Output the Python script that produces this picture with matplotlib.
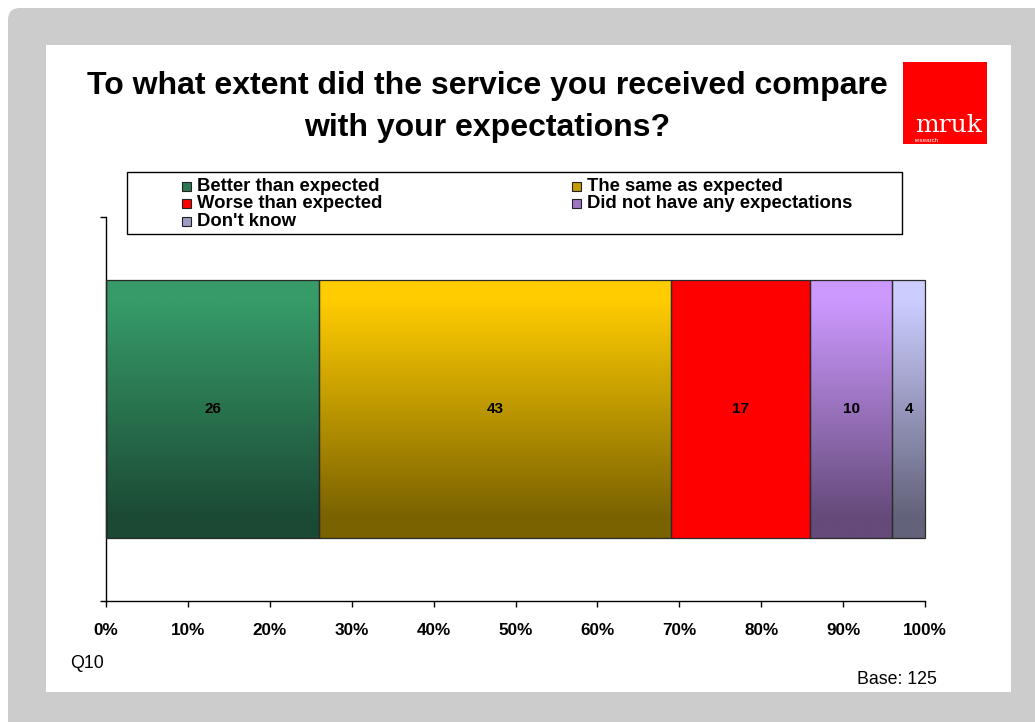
import numpy as np
import matplotlib
matplotlib.use('Agg')
import matplotlib.pyplot as plt
from matplotlib.patches import Rectangle, FancyBboxPatch
from matplotlib.colors import to_rgb

plt.rcParams['font.family'] = ['Liberation Sans', 'DejaVu Sans']

# survey answers, % of respondents
categories = ['Better than expected', 'The same as expected', 'Worse than expected',
              'Did not have any expectations', "Don't know"]
values = [26, 43, 17, 10, 4]
top_colors = ['#369b69', '#ffcc00', '#ff0000', '#cc99ff', '#ccccff']
bottom_colors = ['#1b4a34', '#7a6200', '#ff0000', '#654a7a', '#62627a']
tick_vals = list(range(0, 101, 10))
tick_labels = ['%d%%' % t for t in tick_vals]
title = 'To what extent did the service you received compare\nwith your expectations?'
question = 'Q10'
base_n = 125

W, H = 1035, 722
fig = plt.figure(figsize=(W / 100, H / 100), dpi=100)
fig.patch.set_facecolor('white')

# background layer in pixel units (y pointing down)
bg = fig.add_axes([0, 0, 1, 1])
bg.set_xlim(0, W)
bg.set_ylim(H, 0)
bg.axis('off')
bg.add_patch(FancyBboxPatch((8, 8), W + 40, H + 40,
                            boxstyle='round,pad=0,rounding_size=12',
                            fc='#cccccc', ec='none'))
bg.add_patch(Rectangle((46, 45), 965, 647, fc='white', ec='none'))

bg.text(487, 107, title, ha='center', va='center', fontsize=23,
        fontweight='bold', linespacing=1.5, multialignment='center')

# logo
bg.add_patch(Rectangle((903, 62), 84, 82, fc='#ff0000', ec='none'))
bg.text(948.5, 132, 'mruk', ha='center', va='baseline', color='white',
        fontsize=18, family='DejaVu Serif')
bg.text(915, 142, 'research', ha='left', va='baseline', color='white', fontsize=4.5)

# legend box, laid out row by row
bg.add_patch(Rectangle((127, 172), 775, 62, fc='white', ec='black', lw=1))
col_x = [182, 572]
row_y = [191, 208.5, 226]
for i, (lab, ct, cb) in enumerate(zip(categories, top_colors, bottom_colors)):
    cx = col_x[i % 2]
    ry = row_y[i // 2]
    mid = 0.55 * np.array(to_rgb(ct)) + 0.45 * np.array(to_rgb(cb))
    bg.add_patch(Rectangle((cx, ry - 9.5), 9, 9, fc=mid, ec='#222222', lw=0.8))
    bg.text(cx + 15, ry, lab, ha='left', va='baseline', fontsize=13.3, fontweight='bold')

bg.text(70, 664, question, ha='left', va='center', fontsize=12.8)
bg.text(857, 679, 'Base: %d' % base_n, ha='left', va='center', fontsize=12.8)


def vgrad(c_top, c_bot, n=256):
    t = np.linspace(0, 1, n)
    t = np.clip((t - 0.08) / 0.84, 0, 1)
    a = np.array(to_rgb(c_top))
    b = np.array(to_rgb(c_bot))
    return (a[None, :] * (1 - t[:, None]) + b[None, :] * t[:, None])[:, None, :]


ax = fig.add_axes([106 / W, 1 - 601 / H, (925 - 106) / W, (601 - 217) / H])
ax.set_facecolor('none')

lefts = np.concatenate([[0], np.cumsum(values)[:-1]])
bars = ax.barh(0.5, values, left=lefts, height=0.67, fc='none',
               ec='#2a2a2a', lw=0.9, zorder=3, clip_on=False)
for b, v, ct, cb in zip(bars, values, top_colors, bottom_colors):
    x, y = b.get_xy()
    w, h = b.get_width(), b.get_height()
    ax.imshow(vgrad(ct, cb), extent=[x, x + w, y, y + h], aspect='auto',
              origin='upper', zorder=2, interpolation='bilinear')
    ax.text(x + w / 2, y + h / 2, '%d' % v, ha='center', va='center',
            fontsize=11, fontweight='bold', zorder=4)

ax.set_xlim(0, 100)
ax.set_ylim(0, 1)
ax.set_xticks(tick_vals)
ax.set_xticklabels(tick_labels, fontsize=12.3, fontweight='bold')
ax.set_yticks([0, 1])
ax.set_yticklabels([])
ax.tick_params(axis='both', direction='out', length=4, width=1, color='black')
ax.tick_params(axis='x', pad=12)
for s in ['top', 'right']:
    ax.spines[s].set_visible(False)
for s in ['left', 'bottom']:
    ax.spines[s].set_linewidth(1)
    ax.spines[s].set_color('black')

fig.savefig('out.png', dpi=100, facecolor=fig.get_facecolor())
